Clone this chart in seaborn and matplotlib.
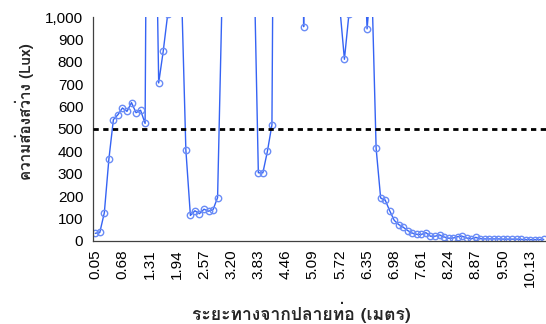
import numpy as np
import pandas as pd
import matplotlib
matplotlib.use("Agg")
import matplotlib.pyplot as plt
import matplotlib.patheffects as pe
import seaborn as sns
from matplotlib import font_manager
from matplotlib.ft2font import FT2Font

# ---- data ----
tick_labels = ["0.05", "0.68", "1.31", "1.94", "2.57", "3.20", "3.83", "4.46", "5.09",
               "5.72", "6.35", "6.98", "7.61", "8.24", "8.87", "9.50", "10.13"]
label_every = 6
lux = [33, 37, 125, 364, 542, 564, 594, 579, 618, 573,
       584, 525, 3800, 2000, 706, 848, 1015, 2500, 2500, 1150,
       406, 113, 134, 121, 141, 132, 139, 193, 1100, 2000,
       3000, 3500, 3000, 2500, 2000, 1300, 304, 304, 400, 519,
       3700, 4000, 4500, 4200, 3800, 3000, 958, 3500, 4000, 4200,
       3900, 3500, 3000, 2000, 1040, 812, 1015, 2000, 2500, 1500,
       948, 1185, 413, 191, 182, 134, 91, 72, 60, 45,
       34, 28, 28, 36, 20, 20, 26, 17, 11, 12,
       18, 20, 12, 8, 15, 9, 8, 8, 8, 8,
       7, 7, 7, 7, 6, 5, 5, 5, 5, 6]
threshold = 500
x_title = "ระยะทางจากปลายท่อ (เมตร)"
y_title = "ความส่องสว่าง (Lux)"


def find_thai_family():
    fams = {}
    for f in font_manager.fontManager.ttflist:
        try:
            ft = FT2Font(f.fname)
            if 0x0E01 in ft.get_charmap():
                w = f.weight if isinstance(f.weight, int) else (700 if "bold" in str(f.weight) else 400)
                fams.setdefault(f.name, []).append(w)
        except Exception:
            pass
    order = ["Noto Sans Thai", "Noto Sans Thai UI", "Noto Sans Thai Looped", "Loma",
             "Garuda", "Tahoma", "Leelawadee UI"]
    names = [n for n in order if n in fams] + sorted(n for n in fams if n not in order)
    for n in names:
        if max(fams[n]) >= 600:
            return n, True
    if names:
        return names[0], False
    return "DejaVu Sans", True


sns.set_style("white")
plt.rcParams["font.family"] = ["Liberation Sans", "DejaVu Sans"]
thai, has_bold = find_thai_family()
title_fx = [] if has_bold else [pe.withStroke(linewidth=0.9, foreground="black")]

df = pd.DataFrame({"pos": np.arange(len(lux)), "lux": lux})

fig = plt.figure(figsize=(5.46, 3.24), dpi=100)
ax = fig.add_axes([93 / 546, 83.3 / 324, 453 / 546, 223.4 / 324])

sns.lineplot(data=df, x="pos", y="lux", ax=ax, color="#3563f4", linewidth=1.0,
             marker="o", markersize=4.6, markerfacecolor="none",
             markeredgecolor="#6a8cf6", markeredgewidth=1.0, legend=False)
ax.axhline(threshold, color="black", linewidth=2.0, linestyle=(0, (1.9, 1.6)), zorder=3)

ax.set_xlim(-0.5, len(lux) - 0.5)
ax.set_ylim(0, 1000)
ax.set_yticks(np.arange(0, 1001, 100))
ax.set_yticklabels([f"{v:,}" for v in range(0, 1001, 100)], fontsize=11)
ax.set_xticks(np.arange(0, len(lux), label_every)[:len(tick_labels)])
ax.set_xticklabels(tick_labels, rotation=90, fontsize=11)
ax.set_xticks(np.arange(-0.5, len(lux), 1), minor=True)
ax.tick_params(axis="x", which="major", length=0, pad=6)
ax.tick_params(axis="x", which="minor", length=5, width=0.8, direction="out")
ax.tick_params(axis="y", length=5, width=0.8, direction="out", pad=2)
ax.tick_params(axis="both", which="both", color="#404040", labelcolor="black")
for s in ["top", "right"]:
    ax.spines[s].set_visible(False)
for s in ["left", "bottom"]:
    ax.spines[s].set_color("#404040")
    ax.spines[s].set_linewidth(0.9)
ax.set_xlabel("")
ax.set_ylabel("")

fig.text(301 / 546, 1 - 312 / 324, x_title, ha="center", va="center",
         fontsize=12.6, fontweight="bold", family=[thai, "Liberation Sans", "DejaVu Sans"],
         path_effects=title_fx)
fig.text(24 / 546, 1 - 111.5 / 324, y_title, ha="center", va="center", rotation=90,
         fontsize=11, fontweight="bold", family=[thai, "Liberation Sans", "DejaVu Sans"],
         path_effects=title_fx)

fig.savefig("out.png", dpi=100)
